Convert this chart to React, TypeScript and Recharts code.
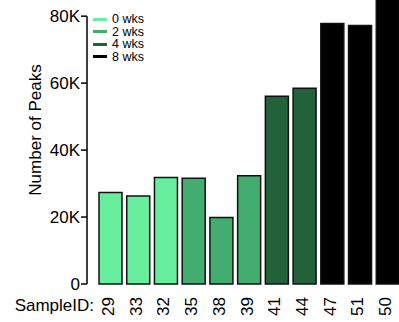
import { BarChart, Bar, Cell, XAxis, YAxis, Legend, Label } from 'recharts'

const sampleIds = ['29', '33', '32', '35', '38', '39', '41', '44', '47', '51', '50']
const peaks = [27300, 26300, 31800, 31600, 19900, 32300, 56100, 58500, 77800, 77200, 90000]
const weeks = [0, 0, 0, 2, 2, 2, 4, 4, 8, 8, 8]
const groupWeeks = [0, 2, 4, 8]
const groupLabels = ['0 wks', '2 wks', '4 wks', '8 wks']
const yTicks = [0, 20000, 40000, 60000, 80000]

const colors: Record<number, string> = {
  0: '#66ee9c',
  2: '#42ad6f',
  4: '#23613b',
  8: '#000000',
}

const data = sampleIds.map((id, i) => ({ id, peaks: peaks[i], weeks: weeks[i] }))

const FONT = '"Liberation Sans", Arial, Helvetica, sans-serif'
const CHART_W = 402
const CHART_H = 346
const XAXIS_H = 38
const Y_MAX = 92000
const AXIS_TOP = 80000
// hide the part of the y axis line above the 80K tick
const axisGap = ((CHART_H - XAXIS_H) * (Y_MAX - AXIS_TOP)) / Y_MAX

const renderSampleLabel = (props: any) => {
  const { viewBox } = props
  return (
    <text x={viewBox.x + 7} y={viewBox.y + 27} textAnchor="end" fontSize={17} fontFamily={FONT} fill="#000">
      SampleID:
    </text>
  )
}

function WeeksLegend() {
  return (
    <div style={{ fontFamily: FONT, fontSize: 12.5, lineHeight: '12.5px' }}>
      {groupWeeks.map((w, i) => (
        <div key={w} style={{ display: 'flex', alignItems: 'center', height: 12.5 }}>
          <span style={{ display: 'inline-block', width: 14, height: 3, background: colors[w], marginRight: 5 }} />
          <span>{groupLabels[i]}</span>
        </div>
      ))}
    </div>
  )
}

export default function App() {
  return (
    <div style={{ position: 'fixed', left: 0, top: 0, width: 399, height: 322, overflow: 'hidden', background: '#fff' }}>
      <div style={{ position: 'absolute', left: 0, top: -24 }}>
        <BarChart width={CHART_W} height={CHART_H} data={data} margin={{ top: 0, right: 0, bottom: 0, left: 0 }}>
          <XAxis
            dataKey="id"
            height={XAXIS_H}
            axisLine={false}
            tickLine={false}
            tickSize={0}
            tickMargin={13}
            padding={{ left: 10, right: 0 }}
            interval={0}
            angle={-90}
            textAnchor="end"
            tick={{ fontSize: 17, fontFamily: FONT, fill: '#000', dx: -9 }}
          >
            <Label content={renderSampleLabel} />
          </XAxis>
          <YAxis
            width={87}
            domain={[0, Y_MAX]}
            ticks={yTicks}
            tickFormatter={(v: number) => (v === 0 ? '0' : `${v / 1000}K`)}
            tick={{ fontSize: 17, fontFamily: FONT, fill: '#000' }}
            tickSize={6}
            tickMargin={1}
            tickLine={{ stroke: '#000', strokeWidth: 1.5 }}
            axisLine={{ stroke: '#000', strokeWidth: 1.5, strokeDasharray: `0 ${axisGap} 1000` }}
            label={{
              value: 'Number of Peaks',
              angle: -90,
              position: 'insideLeft',
              offset: 35,
              fontSize: 17,
              fontFamily: FONT,
              fill: '#000',
              style: { textAnchor: 'middle' },
            }}
          />
          <Legend
            layout="vertical"
            align="center"
            verticalAlign="middle"
            content={<WeeksLegend />}
            wrapperStyle={{ top: 37, left: 93, width: 80 }}
          />
          <Bar dataKey="peaks" barSize={23} stroke="#111" strokeWidth={1.5} isAnimationActive={false}>
            {data.map((d) => (
              <Cell key={d.id} fill={colors[d.weeks]} />
            ))}
          </Bar>
        </BarChart>
      </div>
    </div>
  )
}
